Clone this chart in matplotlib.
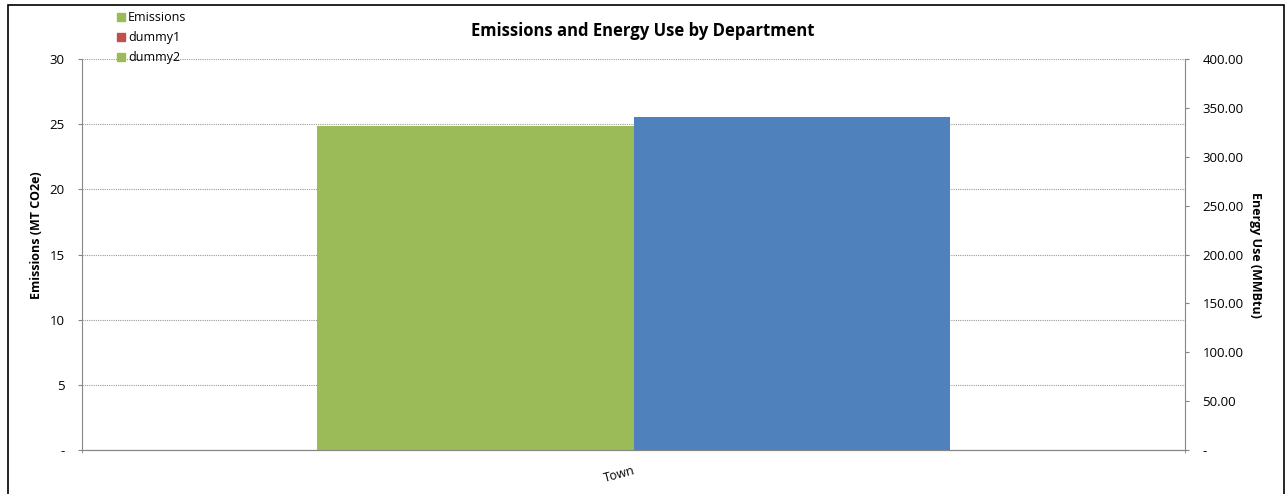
import matplotlib
matplotlib.use("Agg")
import matplotlib.pyplot as plt
from matplotlib.patches import Rectangle
from matplotlib.lines import Line2D

plt.rcParams['font.family'] = ['Open Sans', 'DejaVu Sans']

# data
departments = ["Town"]
emissions = [24.85]        # MT CO2e (left axis)
energy_use = [340.5]       # MMBtu (right axis)
left_ticks = [0, 5, 10, 15, 20, 25, 30]
right_ticks = [0, 50, 100, 150, 200, 250, 300, 350, 400]

green = "#9BBB59"
blue = "#4F81BD"
red = "#C0504D"
axis_gray = "#868686"

fig = plt.figure(figsize=(12.86, 4.94), dpi=100)
ax = fig.add_axes([82 / 1286, 44 / 494, 1103 / 1286, 391 / 494])
ax2 = ax.twinx()

# outer chart border
fig.patches.append(Rectangle((8 / 1286, -0.01), 1276 / 1286, 1.0, transform=fig.transFigure,
                             fill=False, edgecolor="black", lw=1.2))

w = 0.2865
x = range(len(departments))
ax.bar([i - w / 2 for i in x], emissions, width=w, color=green, zorder=3)
ax2.bar([i + w / 2 for i in x], energy_use, width=w, color=blue, zorder=3)

ax.set_xlim(-0.5, 0.5)
ax.set_ylim(0, 30)
ax2.set_ylim(0, 400)
ax.set_yticks(left_ticks)
ax.set_yticklabels(["-" if t == 0 else str(t) for t in left_ticks])
ax2.set_yticks(right_ticks)
ax2.set_yticklabels(["-" if t == 0 else "%.2f" % t for t in right_ticks])

ax.set_xticks([-0.5, 0.5], minor=True)
ax.set_xticks(list(x))
ax.set_xticklabels(departments, rotation=15, ha="right", rotation_mode="anchor")
ax.tick_params(axis="x", which="major", length=0, pad=10, labelsize=9)
ax.tick_params(axis="x", which="minor", length=4, color=axis_gray, direction="inout")

ax.yaxis.grid(True, ls=(0, (1, 1)), lw=0.8, color="#9a9a9a", zorder=0)
ax.set_axisbelow(True)

for a in (ax, ax2):
    a.spines["top"].set_visible(False)
    a.spines["left"].set_color(axis_gray)
    a.spines["right"].set_color(axis_gray)
    a.spines["bottom"].set_color(axis_gray)
    a.tick_params(axis="y", length=3, color=axis_gray, labelsize=9.5, pad=9.5)
ax2.spines["left"].set_visible(False)
ax.spines["right"].set_visible(False)

ax.set_ylabel("Emissions (MT CO2e)", fontsize=9, fontweight="bold")
ax.yaxis.set_label_coords(-0.0354, 0.55)
ax2.set_ylabel("Energy Use (MMBtu)", fontsize=9, fontweight="bold", rotation=-90, va="center")
ax2.yaxis.set_label_coords(1.0635, 0.5)

fig.text(0.5, 0.937, "Emissions and Energy Use by Department", ha="center", va="center",
         fontsize=12, fontweight="bold")

handles = [Line2D([], [], marker="s", ls="", color=green, ms=6),
           Line2D([], [], marker="s", ls="", color=red, ms=6),
           Line2D([], [], marker="s", ls="", color=green, ms=6)]
fig.legend(handles, ["Emissions", "dummy1", "dummy2"], loc="upper left",
           bbox_to_anchor=(108 / 1286, 0.995), frameon=False, fontsize=9,
           handlelength=0.6, handletextpad=0.3, labelspacing=0.55, borderpad=0.2)

fig.savefig("out.png", dpi=100)
